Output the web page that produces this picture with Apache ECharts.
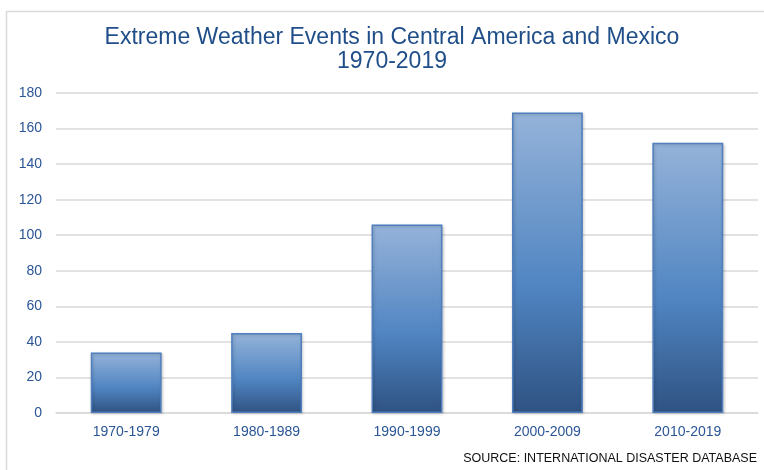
<!DOCTYPE html>
<html>
<head>
<meta charset="utf-8">
<script src="https://cdn.jsdelivr.net/npm/echarts@6/dist/echarts.min.js"></script>
<style>
  html, body { margin: 0; padding: 0; background: #fff; }
  #chart { width: 764px; height: 470px; }
</style>
</head>
<body>
<div id="chart"></div>
<script>
  // decades and event counts
  var decades = ['1970-1979', '1980-1989', '1990-1999', '2000-2009', '2010-2019'];
  var events = [34, 45, 106, 169, 152];
  var titleLines = ['Extreme Weather Events in Central America and Mexico', '1970-2019'];
  var sourceText = 'SOURCE: INTERNATIONAL DISASTER DATABASE';

  var myChart = echarts.init(document.getElementById('chart'));
  myChart.setOption({
    animation: false,
    textStyle: { fontFamily: 'Liberation Sans, Arial, sans-serif' },
    title: {
      text: titleLines.join('\n'),
      left: 387,
      textAlign: 'center',
      top: 21,
      textStyle: {
        color: '#1f4e89',
        fontSize: 23,
        fontWeight: 'normal',
        lineHeight: 24
      }
    },
    graphic: [
      {
        type: 'rect',
        shape: { x: 6.5, y: 11.5, width: 800, height: 500 },
        style: { fill: 'none', stroke: '#d9d9d9', lineWidth: 1.5 },
        z: -1
      },
      {
        type: 'text',
        right: 7,
        top: 452,
        style: {
          text: sourceText,
          fill: '#111',
          fontSize: 12.5,
          fontFamily: 'Liberation Sans, Arial, sans-serif'
        }
      }
    ],
    grid: {
      left: 56,
      right: 6,
      top: 93,
      bottom: 57
    },
    xAxis: {
      type: 'category',
      data: decades,
      axisTick: { show: false },
      axisLine: { lineStyle: { color: '#d9d9d9', width: 1.5 } },
      axisLabel: { color: '#2a5596', fontSize: 14, margin: 12 }
    },
    yAxis: {
      type: 'value',
      min: 0,
      max: 180,
      interval: 20,
      axisTick: { show: false },
      axisLine: { show: false },
      axisLabel: { color: '#2a5596', fontSize: 14, margin: 14 },
      splitLine: { lineStyle: { color: '#d9d9d9', width: 1.5 } }
    },
    series: [
      {
        type: 'bar',
        data: events,
        barWidth: '50.5%',
        itemStyle: {
          color: new echarts.graphic.LinearGradient(0, 0, 0, 1, [
            { offset: 0, color: '#95b3d9' },
            { offset: 0.58, color: '#5085c2' },
            { offset: 1, color: '#2f5282' }
          ]),
          borderColor: '#4f7fbe',
          borderWidth: 1.5,
          shadowColor: 'rgba(0,0,0,0.2)',
          shadowBlur: 3,
          shadowOffsetX: 1,
          shadowOffsetY: 1
        }
      }
    ]
  });
</script>
</body>
</html>
